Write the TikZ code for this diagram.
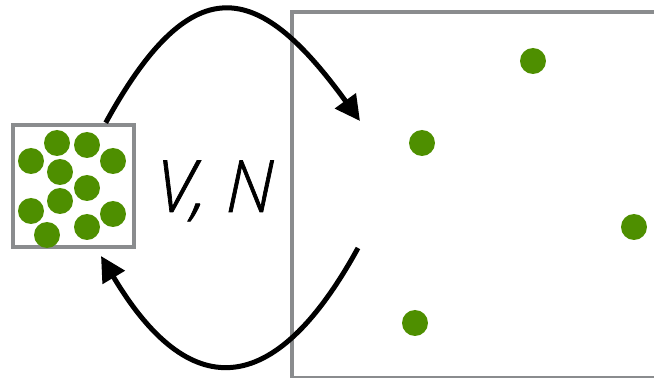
\documentclass[tikz,border=0pt]{standalone}
\usepackage{fontspec}
\setmainfont{Open Sans Light}[FakeBold=1]
\usepackage{tikz}
\usetikzlibrary{arrows.meta}
\definecolor{leaf}{HTML}{4E8F00}
\definecolor{wall}{HTML}{8A8C8E}

\begin{document}
\begin{tikzpicture}[x=0.02cm, y=-0.02cm,
  box/.style={draw=wall, line width=0.09cm, inner sep=0pt},
  atom/.style={circle, fill=leaf, inner sep=0pt, minimum size=0.52cm},
  flow/.style={line width=0.1cm, -{Triangle[length=0.5cm, width=0.5cm]}}]
% Frame
\path[use as bounding box, clip] (0,0) rectangle (654,378);
% Containers
\node (gas) [box, minimum width=2.42cm, minimum height=2.44cm] at (73.5,186) {};
\node (vessel) [box, minimum width=8cm, minimum height=7.32cm,
  anchor=north west] at (290,10) {};
% Packed atoms
\node (a1) [atom] at (31,161) {};
\node (a2) [atom] at (57,143) {};
\node (a3) [atom] at (87,145) {};
\node (a4) [atom] at (113,161) {};
\node (a5) [atom] at (60,172) {};
\node (a6) [atom] at (87,188) {};
\node (a7) [atom] at (60,201) {};
\node (a8) [atom] at (31,211) {};
\node (a9) [atom] at (113,214) {};
\node (a10) [atom] at (87,227) {};
\node (a11) [atom] at (47,235) {};
% Free atoms
\node (b1) [atom] at (533,61) {};
\node (b2) [atom] at (422,143) {};
\node (b3) [atom] at (634,227) {};
\node (b4) [atom] at (415,323) {};
% Label
\node (vn) [anchor=base, inner sep=0pt] at (215,212)
  {\fontsize{41}{49}\selectfont\itshape V, N};
% Expansion and return
\coordinate (inlet) at (360,121);
\coordinate (outlet) at (358,248);
\coordinate (back) at (101,256);
\draw[flow] (gas.63) .. controls (195,-40) and (262,-14) .. (inlet);
\draw[flow] (outlet) .. controls (273,403) and (188,402) .. (back);
\end{tikzpicture}
\end{document}
